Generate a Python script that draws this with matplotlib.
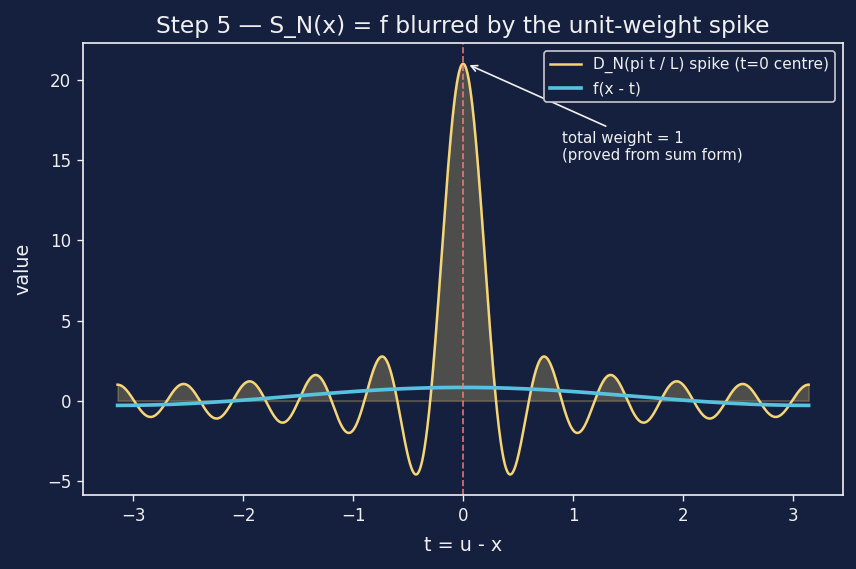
import numpy as np
import matplotlib
matplotlib.use("Agg")
import matplotlib.pyplot as plt

# ---- data parameters ----
N_terms = 10              # Dirichlet kernel order (peak = 2N+1 = 21)
L_half = np.pi            # half period
f_offset = 0.27           # f(x - t) ~ offset + amp*cos(t)
f_amp = 0.56
n_samples = 2000

title = "Step 5 \u2014 S_N(x) = f blurred by the unit-weight spike"
xlabel = "t = u - x"
ylabel = "value"
label_kernel = "D_N(pi t / L) spike (t=0 centre)"
label_f = "f(x - t)"
note = "total weight = 1\n(proved from sum form)"

t = np.linspace(-L_half, L_half, n_samples)
arg = np.pi * t / L_half
with np.errstate(divide="ignore", invalid="ignore"):
    D = np.sin((N_terms + 0.5) * arg) / np.sin(arg / 2)
D[~np.isfinite(D)] = 2 * N_terms + 1
f_vals = f_offset + f_amp * np.cos(t)

# ---- style ----
bg = "#15203f"
yellow = "#f5d576"
blue = "#56c2e0"
red = "#f47f7f"
fg = "#f0f0f0"

DPI = 120
fig = plt.figure(figsize=(856 / DPI, 569 / DPI), dpi=DPI, facecolor=bg)
ax = fig.add_axes([0.097, 0.130, 0.888, 0.794], facecolor=bg)

ax.fill_between(t, 0, np.maximum(D, 0), color=yellow, alpha=0.25, linewidth=1)
ax.plot(t, D, color=yellow, lw=1.5, label=label_kernel)
ax.plot(t, f_vals, color=blue, lw=2.2, label=label_f)
ax.axvline(0, color=red, lw=1.0, ls="--", alpha=0.9)

ax.annotate(note, xy=(0.03, 21), xytext=(0.9, 14.8), color=fg, fontsize=9,
            ha="left", va="bottom",
            arrowprops=dict(arrowstyle="->", color=fg, lw=1.0))

ax.set_title(title, color=fg, fontsize=14)
ax.set_xlabel(xlabel, color=fg, fontsize=11.5, labelpad=7)
ax.set_ylabel(ylabel, color=fg, fontsize=11.5, labelpad=9)
ax.tick_params(colors=fg, labelsize=10)
for s in ax.spines.values():
    s.set_color(fg)
    s.set_linewidth(1.0)

leg = ax.legend(loc="upper right", fontsize=9.25, facecolor=bg, edgecolor="#c8c8d0",
                framealpha=1.0)
for txt in leg.get_texts():
    txt.set_color(fg)

fig.savefig("out.png", dpi=DPI, facecolor=bg)
